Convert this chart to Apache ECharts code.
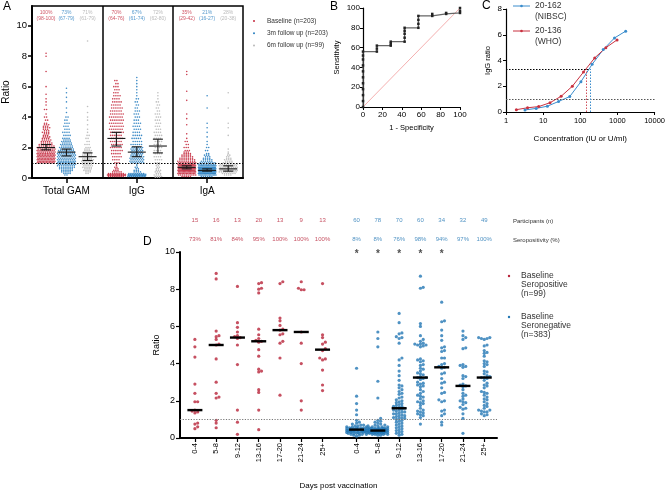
<!DOCTYPE html>
<html><head><meta charset="utf-8">
<script src="https://cdn.jsdelivr.net/npm/echarts@6/dist/echarts.min.js"></script>
<style>html,body{margin:0;padding:0;background:#fff}#c{width:668px;height:491px}</style>
</head><body><div id="c"></div><script>
// ================= DATA =================
// Panel A: each entry = [ratio, number of dots drawn at that ratio]
const aGroups = ['Total GAM', 'IgG', 'IgA'];
const aLegend = ['Baseline (n=203)', '3m follow up (n=203)', '6m follow up (n=99)'];
const aTGBase = [[1.0,12],[1.1,13],[1.2,13],[1.3,12],[1.4,12],[1.5,12],[1.6,11],[1.7,10],[1.8,10],[1.9,9],[2.0,9],[2.1,8],[2.2,7],[2.3,6],[2.4,5],[2.5,5],[2.6,4],[2.7,4],[2.8,3],[2.9,3],[3.0,4],[3.1,3],[3.2,3],[3.3,4],[3.4,3],[3.5,3],[3.6,2],[3.8,2],[4.0,2],[4.2,1],[4.5,2],[4.8,1],[5.0,1],[5.2,1],[5.5,1],[6.0,1],[7.0,1],[8.0,1],[8.2,1]];
const aTG3m = [[0.2,2],[0.3,4],[0.4,5],[0.5,6],[0.6,7],[0.7,8],[0.8,9],[0.9,10],[1.0,12],[1.1,11],[1.2,10],[1.3,9],[1.4,9],[1.5,9],[1.6,9],[1.7,8],[1.8,8],[1.9,7],[2.0,7],[2.1,6],[2.2,6],[2.3,5],[2.4,5],[2.5,4],[2.6,4],[2.8,4],[3.0,4],[3.2,3],[3.4,3],[3.6,3],[3.8,2],[4.0,2],[4.3,1],[4.6,1],[5.0,1],[5.3,1],[5.6,1],[5.9,1]];
const aTG6m = [[0.3,2],[0.4,3],[0.5,4],[0.6,4],[0.7,5],[0.8,5],[0.9,5],[1.0,6],[1.1,6],[1.2,6],[1.3,5],[1.4,5],[1.5,5],[1.6,4],[1.7,4],[1.8,4],[1.9,3],[2.0,3],[2.2,3],[2.4,2],[2.6,2],[2.8,2],[3.0,1],[3.2,1],[3.5,1],[3.8,1],[4.0,1],[4.3,1],[4.7,1],[9.0,1]];
const aIgGBase = [[0.1,8],[0.15,10],[0.2,12],[0.25,10],[0.3,8],[0.4,5],[0.5,3],[0.6,2],[0.7,2],[0.8,1],[0.9,1],[1.0,3],[1.2,4],[1.4,5],[1.6,5],[1.8,6],[2.0,6],[2.2,6],[2.4,6],[2.6,6],[2.8,6],[3.0,7],[3.2,7],[3.4,7],[3.6,7],[3.8,7],[4.0,7],[4.2,7],[4.4,6],[4.6,6],[4.8,5],[5.0,5],[5.2,4],[5.4,4],[5.6,3],[5.8,3],[6.0,3],[6.2,2],[6.4,2]];
const aIgG3m = [[0.1,10],[0.15,12],[0.2,14],[0.25,10],[0.3,8],[0.4,4],[0.5,3],[0.6,2],[0.7,2],[0.8,1],[0.9,1],[1.0,7],[1.1,7],[1.2,7],[1.3,7],[1.4,7],[1.5,6],[1.6,6],[1.7,6],[1.8,6],[1.9,6],[2.0,6],[2.2,6],[2.4,5],[2.6,5],[2.8,5],[3.0,4],[3.2,4],[3.4,4],[3.6,4],[3.8,3],[4.0,3],[4.2,3],[4.4,3],[4.6,2],[4.8,2],[5.0,2],[5.2,2],[5.4,1],[5.6,1],[5.8,1],[6.0,1],[6.2,1],[6.4,1],[6.6,1]];
const aIgG6m = [[0.05,3],[0.1,4],[0.2,4],[0.3,3],[0.4,3],[0.5,3],[0.6,2],[0.7,2],[0.8,2],[0.9,2],[1.0,3],[1.2,4],[1.4,4],[1.6,4],[1.8,4],[2.0,4],[2.2,4],[2.4,4],[2.6,4],[2.8,4],[3.0,4],[3.2,3],[3.4,3],[3.6,3],[3.8,3],[4.0,3],[4.2,3],[4.4,2],[4.6,2],[4.8,2],[5.0,2],[5.2,1],[5.4,1],[5.6,1]];
const aIgABase = [[0.1,5],[0.2,10],[0.3,13],[0.4,15],[0.5,17],[0.6,18],[0.7,18],[0.8,17],[0.9,16],[1.0,11],[1.1,9],[1.2,8],[1.3,7],[1.4,6],[1.5,5],[1.6,4],[1.7,3],[1.8,3],[2.0,3],[2.2,2],[2.4,2],[2.6,1],[2.9,1],[3.5,1],[3.9,1],[4.2,1],[5.1,1],[5.7,1],[6.8,1],[7.0,1]];
const aIgA3m = [[0.1,6],[0.2,14],[0.3,20],[0.4,24],[0.5,26],[0.6,24],[0.7,20],[0.8,15],[0.9,11],[1.0,8],[1.1,6],[1.2,5],[1.3,4],[1.4,3],[1.5,3],[1.6,2],[1.8,2],[2.0,2],[2.2,1],[2.4,1],[2.7,1],[3.0,1],[3.3,1],[3.6,1],[4.6,1],[5.4,1]];
const aIgA6m = [[0.2,4],[0.3,7],[0.4,9],[0.5,11],[0.6,11],[0.7,10],[0.8,10],[0.9,9],[1.0,5],[1.1,4],[1.2,4],[1.3,3],[1.4,2],[1.5,2],[1.6,1],[1.7,1],[1.9,1],[2.8,1],[3.3,1],[3.6,1],[4.6,1],[5.6,1]];
// medians and 95% CI, order: TG base/3m/6m, IgG base/3m/6m, IgA base/3m/6m
const aMedian = [2.0, 1.7, 1.4, 2.6, 1.7, 2.1, 0.7, 0.5, 0.6];
const aCILow  = [1.85, 1.45, 1.15, 2.1, 1.4, 1.65, 0.6, 0.45, 0.45];
const aCIHigh = [2.2, 1.9, 1.65, 3.0, 2.05, 2.55, 0.8, 0.6, 0.8];
const aPct   = ['100%', '73%', '71%', '70%', '67%', '72%', '35%', '21%', '28%'];
const aPctCI = ['(98-100)', '(67-79)', '(61-79)', '(64-76)', '(61-74)', '(62-80)', '(29-42)', '(16-27)', '(20-38)'];

// Panel B: ROC curve
const rocX = [0,0,0,0,0,0,0,0,0,0,0, 14.3,14.3,14.3, 28.6,28.6,28.6, 42.9,42.9,42.9,42.9,42.9, 57.1,57.1,57.1,57.1, 71.4,71.4, 85.7,85.7, 100,100,100];
const rocY = [0,6,12,18,24,30,36,42,48,52,56, 56,59,62, 62,64,66, 66,70,74,77,80, 80,84,88,92, 92,94, 94,95, 95,97,100];

// Panel C: standard curves
const concNIBSC  = [3.25, 6.5, 13, 26, 52, 104, 208, 416, 833, 1666];
const ratioNIBSC = [0.16, 0.28, 0.45, 0.82, 1.2, 2.35, 3.7, 4.85, 5.75, 6.28];
const concWHO    = [1.9, 3.8, 7.6, 15.3, 30.5, 61, 122, 244, 488, 977];
const ratioWHO   = [0.18, 0.33, 0.42, 0.72, 1.22, 2.0, 3.1, 4.2, 5.0, 5.6];
const cLegend = [['20-162', '(NIBSC)'], ['20-136', '(WHO)']];
const cCutRatio = 3.35, cCutWHO = 145, cCutNIBSC = 190;

// Panel D
const dCategories = ['0-4', '5-8', '9-12', '13-16', '17-20', '21-24', '25+'];
const dSeropos = [
  [5.3,4.9,4.35,2.9,2.4,1.95,1.95,1.5,1.45,1.4,1.35,0.8,0.75,0.6,0.5],
  [8.85,8.55,5.75,5.5,5.45,5.3,5.05,5.0,4.25,3.0,2.4,2.2,2.15,0.95,0.8,0.55],
  [8.15,6.2,5.95,5.7,5.5,5.45,5.4,5.35,5.0,3.95,1.5,0.85,0.2],
  [8.35,8.3,8.05,8.0,7.8,5.85,5.55,5.35,5.25,5.2,5.15,4.75,4.4,3.7,3.6,3.55,2.6,2.45,1.5,0.45],
  [8.4,8.3,6.45,6.3,6.05,5.85,5.8,5.6,5.55,5.2,5.1,4.3,2.3],
  [8.4,8.05,7.97,7.97,5.7,5.1,4.0,2.0,1.5],
  [8.3,5.55,5.4,5.15,5.05,4.8,4.7,4.3,4.25,4.2,3.65,2.85,2.55]
];
const dSeroneg = [
  [3.75,2.25,1.85,1.5,1.25,0.95,0.85,0.8,0.75,0.7,0.7,0.65,0.65,0.6,0.6,0.6,0.55,0.55,0.55,0.55,0.5,0.5,0.5,0.5,0.5,0.45,0.45,0.45,0.45,0.45,0.45,0.45,0.4,0.4,0.4,0.4,0.4,0.4,0.4,0.35,0.35,0.35,0.35,0.35,0.35,0.3,0.3,0.3,0.3,0.3,0.25,0.25,0.25,0.25,0.2,0.2,0.2,0.15,0.15,0.1],
  [5.7,5.35,4.9,3.05,2.15,1.05,0.95,0.9,0.85,0.8,0.75,0.7,0.7,0.65,0.65,0.6,0.6,0.6,0.55,0.55,0.55,0.55,0.5,0.5,0.5,0.5,0.5,0.5,0.5,0.45,0.45,0.45,0.45,0.45,0.45,0.45,0.45,0.45,0.4,0.4,0.4,0.4,0.4,0.4,0.4,0.4,0.4,0.4,0.4,0.35,0.35,0.35,0.35,0.35,0.35,0.35,0.35,0.35,0.3,0.3,0.3,0.3,0.3,0.3,0.3,0.3,0.25,0.25,0.25,0.25,0.25,0.25,0.2,0.2,0.2,0.2,0.15,0.15],
  [6.7,6.2,5.65,5.6,5.45,5.4,5.35,5.1,4.3,4.2,3.9,3.6,3.35,3.1,2.85,2.8,2.7,2.6,2.5,2.4,2.35,2.2,2.15,2.05,2.0,1.95,1.9,1.85,1.8,1.75,1.7,1.7,1.65,1.6,1.6,1.55,1.5,1.5,1.45,1.4,1.4,1.35,1.3,1.3,1.25,1.2,1.2,1.15,1.1,1.1,1.05,1.05,1.0,0.95,0.9,0.85,0.8,0.75,0.7,0.65,0.6,0.55,0.5,0.45,0.4,0.35,0.3,0.25,0.2,0.15],
  [8.7,8.1,8.05,6.15,6.0,5.5,5.3,5.2,5.1,5.05,5.05,5.0,5.0,4.95,4.9,4.25,4.2,4.15,4.1,3.95,3.9,3.75,3.7,3.6,3.5,3.45,3.4,3.3,3.25,3.25,3.2,3.15,3.0,2.95,2.9,2.85,2.8,2.75,2.6,2.5,2.4,2.3,2.25,2.2,2.1,2.0,1.95,1.9,1.85,1.75,1.6,1.5,1.45,1.4,1.35,1.3,1.25,1.2,1.1,0.75],
  [7.3,6.3,6.25,5.8,5.5,5.25,4.9,4.85,4.7,4.65,4.3,4.3,4.0,3.95,3.85,3.8,3.75,3.5,3.45,3.2,3.0,2.95,2.7,2.45,2.4,2.05,2.0,1.95,1.5,1.45,1.3,1.2,0.85,0.7],
  [5.75,5.5,5.4,5.3,4.85,4.8,3.95,3.9,3.85,3.8,3.35,3.3,3.2,2.9,2.85,2.8,2.75,2.6,2.4,2.3,2.25,2.1,2.0,1.95,1.9,1.8,1.65,1.6,1.55,1.3,1.05,0.25],
  [5.4,5.4,5.35,5.35,5.3,5.0,4.95,4.7,4.6,4.55,4.4,4.15,4.1,4.0,3.95,3.85,3.6,3.55,3.45,3.35,3.3,3.25,3.25,3.2,3.1,2.95,2.85,2.8,2.7,2.5,2.45,2.4,2.3,2.2,2.1,2.05,1.95,1.85,1.75,1.7,1.6,1.5,1.5,1.45,1.4,1.4,1.3,1.25,1.2]
];
const dMedianPos = [1.5, 5.0, 5.4, 5.2, 5.8, 5.7, 4.75];
const dMedianNeg = [0.45, 0.4, 1.6, 3.25, 3.8, 2.8, 3.25];
const dNPos = ['15', '16', '13', '20', '13', '9', '13'];
const dNNeg = ['60', '78', '70', '60', '34', '32', '49'];
const dSeroPos = ['73%', '81%', '84%', '95%', '100%', '100%', '100%'];
const dSeroNeg = ['8%', '8%', '76%', '98%', '94%', '97%', '100%'];
const dStars = ['*', '*', '*', '*', '*', '', ''];

// ================= LAYOUT / STYLE =================
const FONT = 'Liberation Sans, Arial, Helvetica, sans-serif';
const RED = '#c42a3e', BLUE = '#2a7fc0', GRAY = '#b8b8b8';
const DRED = '#b8243a', DBLUE = '#2377b4';

const GA = {left: 32, top: 6, width: 211, height: 172};
const GB = {left: 363, top: 8, width: 97, height: 99};
const GC = {left: 506, top: 9, width: 150, height: 103};
const GD = {left: 180, top: 252, width: 317, height: 187};
const A_YMAX = 11.3;
const D_XMIN = -0.7, D_XMAX = 14.2;

// Panel A layout: row beeswarm
const aSubOffset = [0.2, 0.49, 0.79];
const aXpx = GA.width / 3;
function rowSwarm(pairs, cx) {
  const out = [];
  const maxW = 17;
  pairs.forEach(([v, n], r) => {
    const step = n > 1 ? Math.min(2.1, maxW / (n - 1)) : 0;
    const shift = (r % 2) * 0.5 * step;
    for (let k = 0; k < n; k++) out.push([cx + ((k - (n - 1) / 2) * step + (n > 1 ? shift - 0.25 * step : 0)) / aXpx, v]);
  });
  return out;
}
const aSets = [[aTGBase, aIgGBase, aIgABase], [aTG3m, aIgG3m, aIgA3m], [aTG6m, aIgG6m, aIgA6m]];
const aSeriesData = aSets.map((sets, t) => sets.flatMap((pairs, g) => rowSwarm(pairs, g + aSubOffset[t])));
const aErrData = aMedian.map((m, i) => [Math.floor(i / 3) + aSubOffset[i % 3], m, aCILow[i], aCIHigh[i]]);
const aLabelData = aPct.map((p, i) => ({value: [Math.floor(i / 3) + aSubOffset[i % 3], 10.68], label: {formatter: p + '\n' + aPctCI[i], color: [RED, BLUE, '#aaa'][i % 3]}}));

// Panel D layout: collision beeswarm with a maximum half width
const dPos = dCategories.map((c, i) => i);
const dNegPos = dCategories.map((c, i) => 7.6 + i);
const dAllPos = dPos.concat(dNegPos);
const dAllLab = dCategories.concat(dCategories);
const dXpx = GD.width / (D_XMAX - D_XMIN), dYpx = GD.height / 10;
function swarm(vals, cx, d, maxHalf) {
  const placed = [], out = [];
  const step = d * 0.5;
  const nSteps = Math.floor(maxHalf / step);
  vals.slice().sort((a, b) => a - b).forEach(v => {
    const y = v * dYpx;
    let best = null, bestDist = -1, fallback = 0;
    for (let j = 0; j <= nSteps && best === null; j++) {
      const cands = j === 0 ? [0] : [j * step, -j * step];
      for (const c of cands) {
        let m = Infinity;
        placed.forEach(p => { m = Math.min(m, Math.hypot(p[0] - c, p[1] - y)); });
        if (m >= d) { best = c; break; }
        if (m > bestDist) { bestDist = m; fallback = c; }
      }
    }
    const off = best !== null ? best : fallback;
    placed.push([off, y]);
    out.push([cx + off / dXpx, v]);
  });
  return out;
}
const dRedData = dSeropos.flatMap((vals, i) => swarm(vals, dPos[i], 2.8, 11));
const dBlueData = dSeroneg.flatMap((vals, i) => swarm(vals, dNegPos[i], 2.8, 10));
const dMedData = dMedianPos.map((m, i) => [dPos[i], m]).concat(dMedianNeg.map((m, i) => [dNegPos[i], m]));
const dHeader = [];
dCategories.forEach((c, i) => {
  dHeader.push({value: [dPos[i], 11.72], label: {formatter: dNPos[i], color: DRED}});
  dHeader.push({value: [dPos[i], 10.68], label: {formatter: dSeroPos[i], color: DRED}});
  dHeader.push({value: [dNegPos[i], 11.72], label: {formatter: dNNeg[i], color: DBLUE}});
  dHeader.push({value: [dNegPos[i], 10.68], label: {formatter: dSeroNeg[i], color: DBLUE}});
  if (dStars[i]) dHeader.push({value: [dNegPos[i], 9.9], label: {formatter: dStars[i], color: '#222', fontSize: 10, fontWeight: 'bold'}});
});

function hbar(halfW, lw) {
  return (params, api) => {
    const p = api.coord([api.value(0), api.value(1)]);
    return {type: 'line', shape: {x1: p[0] - halfW, y1: p[1], x2: p[0] + halfW, y2: p[1]}, style: {stroke: '#000', lineWidth: lw}};
  };
}

const axBlack = (w) => ({show: true, onZero: false, lineStyle: {color: '#000', width: w}});

const option = {
  animation: false,
  textStyle: {fontFamily: FONT},
  grid: [
    Object.assign({show: true, borderColor: '#000', borderWidth: 1.5, backgroundColor: 'transparent'}, GA),
    GB, GC, GD
  ],
  xAxis: [
    {gridIndex: 0, type: 'value', min: 0, max: 3, splitLine: {show: false}, axisLine: axBlack(2),
     axisTick: {customValues: [0.49, 1.49, 2.49], length: 5, lineStyle: {color: '#000', width: 1.5}},
     axisLabel: {customValues: [0.49, 1.49, 2.49], formatter: v => aGroups[Math.round(v - 0.49)], fontSize: 10, color: '#000', margin: 8}},
    {gridIndex: 1, type: 'value', min: 0, max: 100, interval: 20, splitLine: {show: false}, axisLine: axBlack(1.2),
     axisTick: {length: 3, lineStyle: {color: '#000'}}, axisLabel: {fontSize: 8, color: '#000', margin: 4},
     name: '1 - Specificity', nameLocation: 'middle', nameGap: 17, nameTextStyle: {fontSize: 7.5, color: '#000'}},
    {gridIndex: 2, type: 'log', logBase: 10, min: 1, max: 10000, splitLine: {show: false}, axisLine: axBlack(1.2),
     axisTick: {length: 3, lineStyle: {color: '#000'}}, minorTick: {show: false},
     axisLabel: {fontSize: 7.5, color: '#000', margin: 5, formatter: v => String(Math.round(v))},
     name: 'Concentration (IU or U/ml)', nameLocation: 'middle', nameGap: 23, nameTextStyle: {fontSize: 8, color: '#000'}},
    {gridIndex: 3, type: 'value', min: D_XMIN, max: D_XMAX, splitLine: {show: false}, axisLine: axBlack(2),
     axisTick: {customValues: dAllPos, length: 4, lineStyle: {color: '#000', width: 1.2}},
     axisLabel: {customValues: dAllPos, rotate: 90, fontSize: 7.5, color: '#000', margin: 5,
       formatter: v => { let bi = 0; dAllPos.forEach((p, i) => { if (Math.abs(p - v) < Math.abs(dAllPos[bi] - v)) bi = i; }); return dAllLab[bi]; }},
     name: 'Days post vaccination', nameLocation: 'middle', nameGap: 44, nameTextStyle: {fontSize: 8, color: '#000'}}
  ],
  yAxis: [
    {gridIndex: 0, type: 'value', min: 0, max: A_YMAX, splitLine: {show: false}, axisLine: axBlack(2),
     axisTick: {customValues: [0, 2, 4, 6, 8, 10], length: 4, lineStyle: {color: '#000', width: 1.5}},
     axisLabel: {customValues: [0, 2, 4, 6, 8, 10], fontSize: 9.5, color: '#000', margin: 5},
     name: 'Ratio', nameLocation: 'middle', nameRotate: 90, nameGap: 21, nameTextStyle: {fontSize: 10, color: '#000'}},
    {gridIndex: 1, type: 'value', min: 0, max: 100, interval: 20, splitLine: {show: false}, axisLine: axBlack(1.2),
     axisTick: {length: 3, lineStyle: {color: '#000'}}, axisLabel: {fontSize: 8, color: '#000', margin: 3},
     name: 'Sensitivity', nameLocation: 'middle', nameRotate: 90, nameGap: 22, nameTextStyle: {fontSize: 7.5, color: '#000'}},
    {gridIndex: 2, type: 'value', min: 0, max: 8, interval: 2, splitLine: {show: false}, axisLine: axBlack(1.2),
     axisTick: {length: 3, lineStyle: {color: '#000'}}, axisLabel: {fontSize: 8, color: '#000', margin: 4},
     name: 'IgG ratio', nameLocation: 'middle', nameRotate: 90, nameGap: 14, nameTextStyle: {fontSize: 7.5, color: '#000'}},
    {gridIndex: 3, type: 'value', min: 0, max: 10, interval: 2, splitLine: {show: false}, axisLine: axBlack(2),
     axisTick: {length: 4, lineStyle: {color: '#000', width: 1.2}}, axisLabel: {fontSize: 9, color: '#000', margin: 5},
     name: 'Ratio', nameLocation: 'middle', nameRotate: 90, nameGap: 19, nameTextStyle: {fontSize: 9, color: '#000'}}
  ],
  series: [
    // ----- A -----
    {type: 'scatter', xAxisIndex: 0, yAxisIndex: 0, symbolSize: 1.6, itemStyle: {color: RED, opacity: 0.9}, data: aSeriesData[0], silent: true,
     markLine: {silent: true, symbol: 'none', label: {show: false}, data: [
       {xAxis: 1, lineStyle: {color: '#000', width: 1.5, type: 'solid'}},
       {xAxis: 2, lineStyle: {color: '#000', width: 1.5, type: 'solid'}},
       {yAxis: 1, lineStyle: {color: '#000', width: 1, type: [1.5, 1.5]}}]}},
    {type: 'scatter', xAxisIndex: 0, yAxisIndex: 0, symbolSize: 1.6, itemStyle: {color: BLUE, opacity: 0.9}, data: aSeriesData[1], silent: true},
    {type: 'scatter', xAxisIndex: 0, yAxisIndex: 0, symbolSize: 1.6, itemStyle: {color: GRAY, opacity: 0.9}, data: aSeriesData[2], silent: true},
    {type: 'custom', xAxisIndex: 0, yAxisIndex: 0, data: aErrData, z: 5, silent: true,
     renderItem: (params, api) => {
       const x = api.value(0);
       const pm = api.coord([x, api.value(1)]), pl = api.coord([x, api.value(2)]), ph = api.coord([x, api.value(3)]);
       const st = {stroke: '#1a1a1a', lineWidth: 1.1};
       return {type: 'group', children: [
         {type: 'line', shape: {x1: pm[0] - 9, y1: pm[1], x2: pm[0] + 9, y2: pm[1]}, style: st},
         {type: 'line', shape: {x1: pl[0], y1: pl[1], x2: ph[0], y2: ph[1]}, style: st},
         {type: 'line', shape: {x1: pl[0] - 5, y1: pl[1], x2: pl[0] + 5, y2: pl[1]}, style: st},
         {type: 'line', shape: {x1: ph[0] - 5, y1: ph[1], x2: ph[0] + 5, y2: ph[1]}, style: st}]};
     }},
    {type: 'scatter', xAxisIndex: 0, yAxisIndex: 0, symbolSize: 0, silent: true, clip: false, data: aLabelData,
     label: {show: true, position: 'inside', fontSize: 5, lineHeight: 6}},
    // ----- B -----
    {type: 'line', xAxisIndex: 1, yAxisIndex: 1, data: [[0, 0], [100, 100]], symbol: 'none', silent: true,
     lineStyle: {color: '#f19a9a', width: 0.8}},
    {type: 'line', xAxisIndex: 1, yAxisIndex: 1, data: rocX.map((x, i) => [x, rocY[i]]), symbol: 'rect', symbolSize: 2.5, silent: true,
     lineStyle: {color: '#666', width: 1.2}, itemStyle: {color: '#222'}},
    // ----- C -----
    {type: 'line', xAxisIndex: 2, yAxisIndex: 2, data: concNIBSC.map((x, i) => [x, ratioNIBSC[i]]), symbol: 'circle', symbolSize: 3, silent: true,
     lineStyle: {color: '#3a8ccc', width: 1}, itemStyle: {color: '#3a8ccc'},
     markLine: {silent: true, symbol: 'none', label: {show: false}, data: [
       [{coord: [1, 1]}, {coord: [10000, 1]}],
       [{coord: [1, cCutRatio], lineStyle: {color: '#000', type: [1.5, 1.5], width: 1}}, {coord: [cCutNIBSC, cCutRatio]}],
       [{coord: [cCutWHO, 0], lineStyle: {color: '#d0505c', type: [1.5, 1.5], width: 1}}, {coord: [cCutWHO, cCutRatio]}],
       [{coord: [cCutNIBSC, 0], lineStyle: {color: '#3a8ccc', type: [1.5, 1.5], width: 1}}, {coord: [cCutNIBSC, cCutRatio]}]],
       lineStyle: {color: '#555', type: [1.5, 1.5], width: 1}}},
    {type: 'line', xAxisIndex: 2, yAxisIndex: 2, data: concWHO.map((x, i) => [x, ratioWHO[i]]), symbol: 'circle', symbolSize: 3, silent: true,
     lineStyle: {color: '#c8303f', width: 1}, itemStyle: {color: '#c8303f'}},
    // ----- D -----
    {type: 'scatter', xAxisIndex: 3, yAxisIndex: 3, symbolSize: 3.2, itemStyle: {color: DRED}, data: dRedData, silent: true,
     markLine: {silent: true, symbol: 'none', label: {show: false}, data: [{yAxis: 1}], lineStyle: {color: '#777', width: 1, type: [1.2, 1.5]}}},
    {type: 'scatter', xAxisIndex: 3, yAxisIndex: 3, symbolSize: 3.2, itemStyle: {color: DBLUE}, data: dBlueData, silent: true},
    {type: 'custom', xAxisIndex: 3, yAxisIndex: 3, data: dMedData, z: 5, silent: true, renderItem: hbar(7.5, 2.4)},
    {type: 'scatter', xAxisIndex: 3, yAxisIndex: 3, symbolSize: 0, silent: true, clip: false, data: dHeader,
     label: {show: true, position: 'inside', fontSize: 6}}
  ],
  graphic: [
    {type: 'text', x: 3, y: 1, style: {text: 'A', font: '12px ' + FONT, fill: '#000'}},
    {type: 'text', x: 330, y: 1, style: {text: 'B', font: '12px ' + FONT, fill: '#000'}},
    {type: 'text', x: 482, y: 0, style: {text: 'C', font: '12px ' + FONT, fill: '#000'}},
    {type: 'text', x: 143, y: 236, style: {text: 'D', font: '12px ' + FONT, fill: '#000'}},
    ...aLegend.flatMap((t, i) => [
      {type: 'circle', shape: {cx: 254, cy: 21 + i * 12.3, r: 1}, style: {fill: [RED, BLUE, GRAY][i]}},
      {type: 'text', x: 267, y: 21 + i * 12.3, style: {text: t, font: '6.5px ' + FONT, fill: '#333', verticalAlign: 'middle'}}
    ]),
    ...cLegend.flatMap((t, i) => {
      const y = 6 + i * 25, col = ['#3a8ccc', '#c8303f'][i];
      return [
        {type: 'line', shape: {x1: 513, y1: y, x2: 530, y2: y}, style: {stroke: col, lineWidth: 1}},
        {type: 'circle', shape: {cx: 521.5, cy: y, r: 1.3}, style: {fill: col}},
        {type: 'text', x: 535, y: y, style: {text: t[0], font: '8.5px ' + FONT, fill: '#333', verticalAlign: 'middle'}},
        {type: 'text', x: 535, y: y + 11, style: {text: t[1], font: '8.5px ' + FONT, fill: '#333', verticalAlign: 'middle'}}
      ];
    }),
    {type: 'text', x: 513, y: 221, style: {text: 'Participants (n)', font: '6px ' + FONT, fill: '#333', verticalAlign: 'middle'}},
    {type: 'text', x: 513, y: 240, style: {text: 'Seropositivity (%)', font: '6px ' + FONT, fill: '#333', verticalAlign: 'middle'}},
    {type: 'circle', shape: {cx: 509, cy: 276, r: 1.2}, style: {fill: DRED}},
    {type: 'text', x: 521, y: 276, style: {text: 'Baseline', font: '8.5px ' + FONT, fill: '#333', verticalAlign: 'middle'}},
    {type: 'text', x: 521, y: 284.7, style: {text: 'Seropositive', font: '8.5px ' + FONT, fill: '#333', verticalAlign: 'middle'}},
    {type: 'text', x: 521, y: 293.4, style: {text: '(n=99)', font: '8.5px ' + FONT, fill: '#333', verticalAlign: 'middle'}},
    {type: 'circle', shape: {cx: 509, cy: 317, r: 1.2}, style: {fill: DBLUE}},
    {type: 'text', x: 521, y: 317, style: {text: 'Baseline', font: '8.5px ' + FONT, fill: '#333', verticalAlign: 'middle'}},
    {type: 'text', x: 521, y: 325.7, style: {text: 'Seronegative', font: '8.5px ' + FONT, fill: '#333', verticalAlign: 'middle'}},
    {type: 'text', x: 521, y: 334.4, style: {text: '(n=383)', font: '8.5px ' + FONT, fill: '#333', verticalAlign: 'middle'}}
  ]
};
const chart = echarts.init(document.getElementById('c'));
chart.setOption(option);
</script></body></html>
